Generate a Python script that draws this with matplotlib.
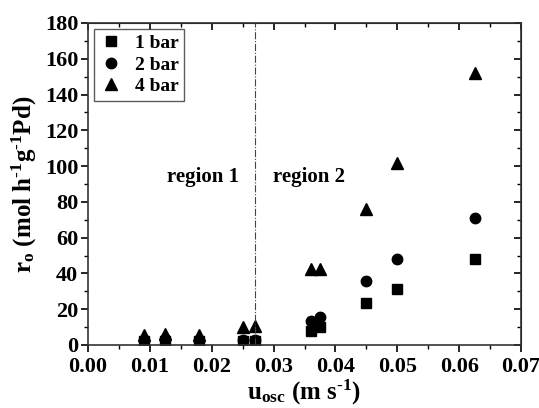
import matplotlib
matplotlib.use("Agg")
import matplotlib.pyplot as plt

plt.rcParams['font.family'] = 'Liberation Serif'
plt.rcParams['font.weight'] = 'bold'
plt.rcParams['mathtext.fontset'] = 'custom'
plt.rcParams['mathtext.rm'] = 'Liberation Serif:bold'
plt.rcParams['mathtext.bf'] = 'Liberation Serif:bold'
plt.rcParams['mathtext.it'] = 'Liberation Serif:bold'
plt.rcParams['mathtext.default'] = 'bf'

# data
u_osc = [0.009, 0.0125, 0.018, 0.025, 0.027, 0.036, 0.0375, 0.045, 0.05, 0.0625]
r_1bar = [2.0, 2.0, 2.0, 2.0, 2.0, 8.0, 10.0, 23.6, 31.3, 48.1]
r_2bar = [3.0, 3.5, 3.0, 3.0, 3.0, 13.6, 15.5, 36.0, 48.2, 71.2]
r_4bar = [5.5, 6.0, 5.5, 10.0, 10.5, 42.5, 42.5, 75.8, 102.0, 152.0]
region_split = 0.027
xticks = [0.0, 0.01, 0.02, 0.03, 0.04, 0.05, 0.06, 0.07]
xlabels = ['0.00', '0.01', '0.02', '0.03', '0.04', '0.05', '0.06', '0.07']
xminor = [0.005, 0.015, 0.025, 0.035, 0.045, 0.055, 0.065]
yticks = list(range(0, 181, 20))
yminor = list(range(10, 180, 20))

fig = plt.figure(figsize=(5.39, 4.08), dpi=100)
ax = fig.add_axes([88/539, 1 - 345/408, (521-88)/539, (345-23)/408])

ax.plot(u_osc, r_1bar, 's', color='black', ms=7, label='1 bar')
ax.plot(u_osc, r_2bar, 'o', color='black', ms=7.5, label='2 bar')
ax.plot(u_osc, r_4bar, '^', color='black', ms=8.5, label='4 bar')

ax.axvline(region_split, color='#444444', lw=0.8, ls='-.')
ax.text(0.0186, 94, 'region 1', fontsize=15, fontweight='bold', ha='center', va='center')
ax.text(0.0357, 94, 'region 2', fontsize=15, fontweight='bold', ha='center', va='center')

ax.set_xlim(0, 0.07)
ax.set_ylim(0, 180)
ax.set_xticks(xticks)
ax.set_xticklabels(xlabels)
ax.set_xticks(xminor, minor=True)
ax.set_yticks(yticks)
ax.set_yticks(yminor, minor=True)
ax.tick_params(axis='both', which='major', labelsize=16, length=5, width=1.2, direction='out', pad=2)
ax.tick_params(axis='x', which='major', pad=4)
ax.tick_params(axis='both', which='minor', length=3, width=1.0, direction='out')

sec_top = ax.secondary_xaxis('top')
sec_top.set_xticks(xticks, labels=[])
sec_top.set_xticks(xminor, minor=True)
sec_top.tick_params(which='major', direction='in', length=5, width=1.2)
sec_top.tick_params(which='minor', direction='in', length=3, width=1.0)
sec_right = ax.secondary_yaxis('right')
sec_right.set_yticks(yticks, labels=[])
sec_right.set_yticks(yminor, minor=True)
sec_right.tick_params(which='major', direction='in', length=5, width=1.2)
sec_right.tick_params(which='minor', direction='in', length=3, width=1.0)

for lab in ax.get_xticklabels() + ax.get_yticklabels():
    lab.set_fontweight('bold')
for sp in ax.spines.values():
    sp.set_linewidth(1.2)
    sp.set_color('#333333')

ax.set_xlabel('u$_{\\rm osc}$ (m s$^{\\rm \u2010 1}$)', fontsize=18, fontweight='bold', labelpad=0)
ax.set_ylabel('r$_{\\rm o}$ (mol h$^{\\rm \u2010 1}$g$^{\\rm \u2010 1}$Pd)', fontsize=18, fontweight='bold', labelpad=4)

leg = ax.legend(loc='upper left', fontsize=14, frameon=True, fancybox=False, edgecolor='#333333',
                handletextpad=0.6, borderpad=0.3, labelspacing=0.2, borderaxespad=0.3, handlelength=1.2)
leg.get_frame().set_linewidth(1.0)
for t in leg.get_texts():
    t.set_fontweight('bold')

fig.savefig('out.png', dpi=100)
